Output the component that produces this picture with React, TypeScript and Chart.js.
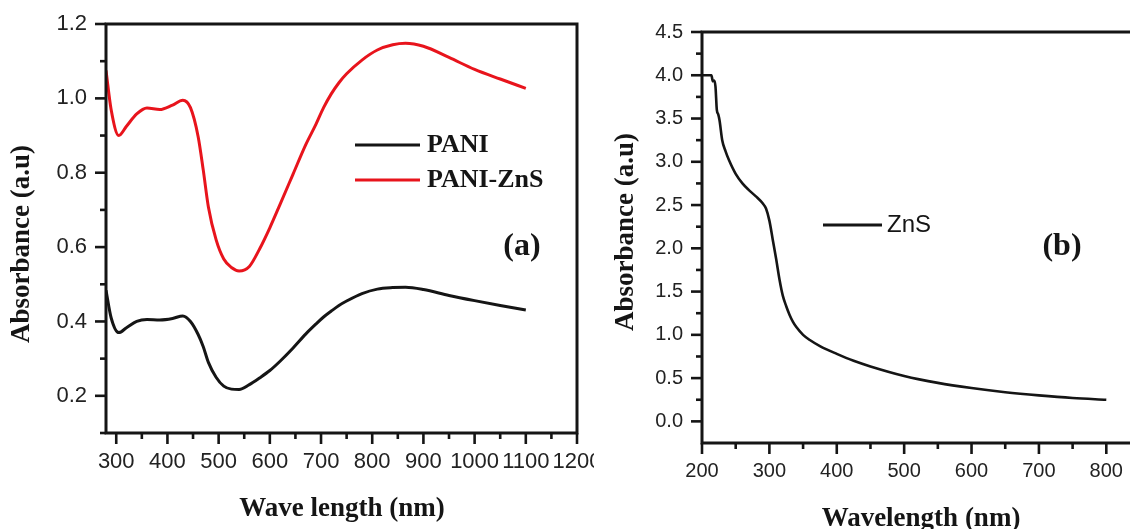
import React, { useEffect, useRef } from 'react';
import { Chart, registerables } from 'chart.js';

Chart.register(...registerables);

// ---------- Panel (a) data ----------
const wavelengthA = [280, 290, 305, 320, 340, 360, 385, 410, 430, 445, 460, 470, 480, 495, 510, 525, 540, 560, 580, 600, 620, 645, 670, 690, 705, 720, 735, 750, 780, 810, 840, 865, 900, 950, 1000, 1050, 1100];
const paniValues = [0.484, 0.41, 0.37, 0.383, 0.4, 0.405, 0.404, 0.408, 0.415, 0.4, 0.365, 0.332, 0.29, 0.25, 0.226, 0.218, 0.217, 0.23, 0.248, 0.268, 0.293, 0.328, 0.366, 0.393, 0.412, 0.428, 0.443, 0.455, 0.475, 0.487, 0.491, 0.492, 0.486, 0.47, 0.456, 0.443, 0.431];
const paniZnsValues = [1.075, 0.97, 0.9, 0.925, 0.958, 0.974, 0.97, 0.982, 0.995, 0.975, 0.897, 0.807, 0.708, 0.62, 0.568, 0.545, 0.536, 0.548, 0.595, 0.652, 0.715, 0.795, 0.875, 0.93, 0.975, 1.012, 1.042, 1.066, 1.103, 1.13, 1.144, 1.148, 1.14, 1.11, 1.078, 1.052, 1.027];
const xTickLabelsA = [300, 400, 500, 600, 700, 800, 900, 1000, 1100, 1200];
const yTickLabelsA = [0.2, 0.4, 0.6, 0.8, 1.0, 1.2];

// ---------- Panel (b) data ----------
const wavelengthB = [200, 205, 210, 214, 216, 218, 220, 222, 224, 226, 230, 235, 240, 250, 260, 270, 280, 290, 295, 300, 305, 310, 315, 320, 325, 330, 335, 340, 350, 360, 375, 400, 425, 450, 500, 550, 600, 650, 700, 750, 800];
const znsValues = [4.0, 4.0, 4.0, 4.0, 3.93, 3.94, 3.87, 3.6, 3.55, 3.48, 3.25, 3.12, 3.02, 2.86, 2.75, 2.67, 2.6, 2.52, 2.46, 2.32, 2.1, 1.88, 1.64, 1.45, 1.33, 1.23, 1.15, 1.09, 1.0, 0.94, 0.87, 0.78, 0.7, 0.635, 0.525, 0.445, 0.385, 0.337, 0.3, 0.27, 0.25];
const xTickLabelsB = [200, 300, 400, 500, 600, 700, 800];
const yTickLabelsB = [0.0, 0.5, 1.0, 1.5, 2.0, 2.5, 3.0, 3.5, 4.0, 4.5];

const SANS = "'Liberation Sans', Arial, sans-serif";
const SERIF = "'Liberation Serif', 'Times New Roman', serif";
const INK = '#151515';
const RED = '#e8141c';

const midpoints = (arr: number[]) => arr.slice(0, -1).map((v, i) => (v + arr[i + 1]) / 2);

type LegendItem = { label: string; color: string; y: number; x0: number; x1: number; tx: number; font: string };
type Deco = {
  xMajor: number[]; xMinor: number[]; yMajor: number[]; yMinor: number[];
  xTitle: string; xTitleX: number; xTitleY: number;
  yTitle: string; yTitleX: number; yTitleY: number;
  legend: LegendItem[];
  panelLabel: string; panelX: number; panelY: number;
};

function decoPlugin(d: Deco) {
  return {
    id: 'deco',
    afterDraw(chart: any) {
      const { ctx, chartArea: ca, scales } = chart;
      ctx.save();
      ctx.strokeStyle = INK;
      ctx.lineCap = 'butt';
      ctx.lineWidth = 2.6;
      const drawX = (v: number, len: number) => {
        const p = scales.x.getPixelForValue(v);
        ctx.beginPath(); ctx.moveTo(p, ca.bottom); ctx.lineTo(p, ca.bottom + len); ctx.stroke();
      };
      const drawY = (v: number, len: number) => {
        const p = scales.y.getPixelForValue(v);
        ctx.beginPath(); ctx.moveTo(ca.left, p); ctx.lineTo(ca.left - len, p); ctx.stroke();
      };
      d.xMajor.forEach((v) => drawX(v, 11));
      d.xMinor.forEach((v) => drawX(v, 6));
      d.yMajor.forEach((v) => drawY(v, 11));
      d.yMinor.forEach((v) => drawY(v, 6));
      ctx.lineWidth = 3;
      ctx.strokeRect(ca.left, ca.top, ca.right - ca.left, ca.bottom - ca.top);
      ctx.fillStyle = INK;
      ctx.font = `bold 27px ${SERIF}`;
      ctx.textAlign = 'center';
      ctx.textBaseline = 'alphabetic';
      ctx.fillText(d.xTitle, d.xTitleX, d.xTitleY);
      ctx.save();
      ctx.translate(d.yTitleX, d.yTitleY);
      ctx.rotate(-Math.PI / 2);
      ctx.fillText(d.yTitle, 0, 0);
      ctx.restore();
      d.legend.forEach((it) => {
        ctx.strokeStyle = it.color;
        ctx.lineWidth = 3;
        ctx.beginPath(); ctx.moveTo(it.x0, it.y); ctx.lineTo(it.x1, it.y); ctx.stroke();
        ctx.fillStyle = INK;
        ctx.font = it.font;
        ctx.textAlign = 'left';
        ctx.textBaseline = 'middle';
        ctx.fillText(it.label, it.tx, it.y);
      });
      ctx.font = `bold 32px ${SERIF}`;
      ctx.textAlign = 'center';
      ctx.textBaseline = 'middle';
      ctx.fillText(d.panelLabel, d.panelX, d.panelY);
      ctx.restore();
    },
  };
}

function axis(min: number, max: number, ticksArr: number[], fmt: (v: number) => string, isX: boolean, size: number, pad: number, fontSize: number) {
  return {
    type: 'linear',
    min,
    max,
    grid: { display: false, drawTicks: false },
    border: { display: false },
    ticks: {
      font: { family: SANS, size: fontSize },
      color: '#222',
      padding: pad,
      autoSkip: false,
      maxRotation: 0,
      callback: (v: any) => fmt(Number(v)),
    },
    afterBuildTicks: (scale: any) => {
      scale.ticks = ticksArr.map((v) => ({ value: v }));
    },
    afterFit: (scale: any) => {
      if (isX) {
        scale.height = size;
        scale.paddingLeft = 0;
        scale.paddingRight = 0;
      } else {
        scale.width = size;
        scale.paddingTop = 0;
        scale.paddingBottom = 0;
      }
    },
  };
}

function PanelA() {
  const ref = useRef<HTMLCanvasElement>(null);
  useEffect(() => {
    const deco: Deco = {
      xMajor: xTickLabelsA, xMinor: midpoints(xTickLabelsA),
      yMajor: yTickLabelsA, yMinor: [0.1, ...midpoints(yTickLabelsA)],
      xTitle: 'Wave length (nm)', xTitleX: 342, xTitleY: 516,
      yTitle: 'Absorbance (a.u)', yTitleX: 29, yTitleY: 244,
      legend: [
        { label: 'PANI', color: INK, y: 145, x0: 355, x1: 420, tx: 427, font: `bold 26px ${SERIF}` },
        { label: 'PANI-ZnS', color: RED, y: 180, x0: 355, x1: 420, tx: 427, font: `bold 26px ${SERIF}` },
      ],
      panelLabel: '(a)', panelX: 522, panelY: 247,
    };
    const chart = new Chart(ref.current as HTMLCanvasElement, {
      type: 'line',
      data: {
        datasets: [
          { label: 'PANI', data: wavelengthA.map((x, i) => ({ x, y: paniValues[i] })), borderColor: INK, borderWidth: 3, pointRadius: 0, cubicInterpolationMode: 'monotone', fill: false },
          { label: 'PANI-ZnS', data: wavelengthA.map((x, i) => ({ x, y: paniZnsValues[i] })), borderColor: RED, borderWidth: 3, pointRadius: 0, cubicInterpolationMode: 'monotone', fill: false },
        ],
      },
      options: {
        animation: false,
        responsive: false,
        devicePixelRatio: 1,
        layout: { padding: { top: 24, right: 17, left: 0, bottom: 0 } },
        plugins: { legend: { display: false }, tooltip: { enabled: false } },
        scales: {
          x: axis(280, 1200, xTickLabelsA, (v) => String(v), true, 96, 16, 22) as any,
          y: axis(0.1, 1.2, yTickLabelsA, (v) => v.toFixed(1), false, 106, 19, 22) as any,
        },
      },
      plugins: [decoPlugin(deco)],
    } as any);
    return () => chart.destroy();
  }, []);
  return <canvas ref={ref} width={594} height={529} style={{ display: 'block' }} />;
}

function PanelB() {
  const ref = useRef<HTMLCanvasElement>(null);
  useEffect(() => {
    const deco: Deco = {
      xMajor: xTickLabelsB, xMinor: [...midpoints(xTickLabelsB), 850],
      yMajor: yTickLabelsB, yMinor: midpoints(yTickLabelsB),
      xTitle: 'Wavelength (nm)', xTitleX: 321, xTitleY: 526,
      yTitle: 'Absorbance (a.u)', yTitleX: 33, yTitleY: 232,
      legend: [
        { label: 'ZnS', color: INK, y: 225, x0: 223, x1: 282, tx: 287, font: `24px ${SANS}` },
      ],
      panelLabel: '(b)', panelX: 462, panelY: 247,
    };
    const chart = new Chart(ref.current as HTMLCanvasElement, {
      type: 'line',
      data: {
        datasets: [
          { label: 'ZnS', data: wavelengthB.map((x, i) => ({ x, y: znsValues[i] })), borderColor: INK, borderWidth: 2.6, pointRadius: 0, cubicInterpolationMode: 'monotone', fill: false },
        ],
      },
      options: {
        animation: false,
        responsive: false,
        devicePixelRatio: 1,
        layout: { padding: { top: 32, right: 20, left: 0, bottom: 0 } },
        plugins: { legend: { display: false }, tooltip: { enabled: false } },
        scales: {
          x: axis(200, 850, xTickLabelsB, (v) => String(v), true, 86, 16, 20) as any,
          y: axis(-0.25, 4.5, yTickLabelsB, (v) => v.toFixed(1), false, 102, 19, 20) as any,
        },
      },
      plugins: [decoPlugin(deco)],
    } as any);
    return () => chart.destroy();
  }, []);
  return <canvas ref={ref} width={560} height={529} style={{ display: 'block' }} />;
}

export default function App() {
  return (
    <div style={{ position: 'fixed', left: 0, top: 0, width: 1130, height: 529, overflow: 'hidden', background: '#fff' }}>
      <div style={{ position: 'absolute', left: 0, top: 0, width: 594, height: 529 }}>
        <PanelA />
      </div>
      <div style={{ position: 'absolute', left: 600, top: 0, width: 530, height: 529, overflow: 'hidden' }}>
        <PanelB />
      </div>
    </div>
  );
}
